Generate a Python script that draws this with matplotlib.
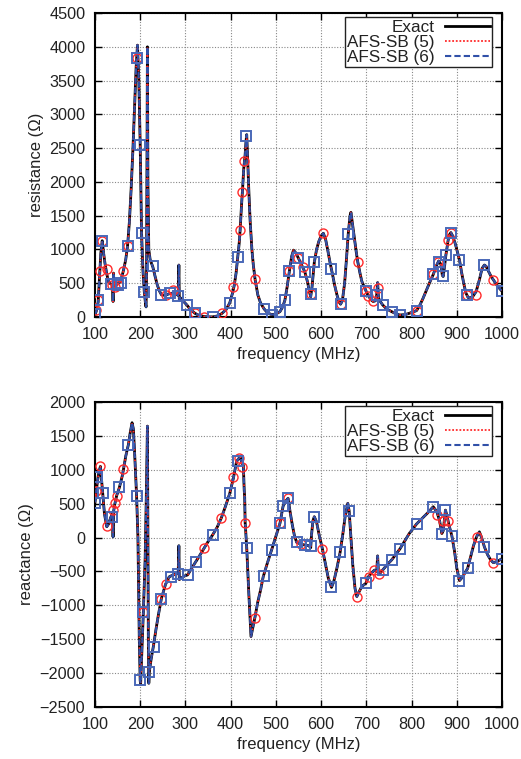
import numpy as np
import matplotlib
matplotlib.use("Agg")
import matplotlib.pyplot as plt

plt.rcParams["font.family"] = ["Liberation Sans", "DejaVu Sans"]
plt.rcParams["font.size"] = 11

# ---------------- resistance (top) ----------------
f_res = [100, 103, 107, 110, 113, 116, 119, 122, 126, 130, 135, 139, 140, 141, 142, 146,
         150, 154, 158, 163, 168, 172, 176, 180, 184, 188, 191, 194, 197, 200, 203, 206,
         209, 212, 213, 214, 216, 217, 219, 222, 228, 233, 238, 243, 247, 255, 262, 268,
         274, 280, 284, 285.5, 286.5, 290, 296, 303, 310, 321, 330, 341, 350, 360, 370, 380,
         390, 398, 404, 408, 412, 416, 419, 421, 424, 426, 429, 432, 434, 435.5, 437, 440,
         443, 447, 450, 454, 460, 466, 474, 482, 491, 500, 509, 515, 520, 525, 530, 535,
         539, 544, 550, 555, 559, 564, 570, 574, 577, 580, 585, 590, 595, 600, 605, 610,
         615, 620, 625, 630, 635, 640, 643, 647, 652, 656, 660, 664, 666, 669, 674, 678,
         681, 686, 690, 695, 699, 704, 710, 715, 720, 723, 725, 727, 731, 736, 745, 756,
         765, 774, 785, 795, 803, 811, 818, 825, 833, 840, 848, 855, 860, 865, 868, 870,
         873, 876, 879, 881, 884, 887, 891, 897, 902, 906, 911, 916, 920, 925, 929, 935,
         943, 950, 956, 961, 965, 970, 976, 981, 990, 999]
r_exact = [30, 90, 220, 600, 950, 1130, 950, 800, 640, 520, 490, 470, 230, 650, 480, 470,
           490, 510, 560, 690, 850, 1050, 1400, 1900, 2500, 3200, 3700, 4025, 3500, 2545, 1250, 700,
           375, 180, 150, 600, 4000, 2000, 1000, 850, 740, 600, 470, 380, 330, 320, 340, 350,
           355, 340, 320, 770, 250, 280, 230, 180, 120, 55, 25, 8, 2, 2, 15, 50,
           110, 210, 350, 470, 650, 900, 1100, 1290, 1650, 1855, 2200, 2400, 2600, 2700, 2450, 1900,
           1435, 1000, 780, 560, 330, 210, 120, 60, 35, 45, 80, 150, 250, 450, 685, 900,
           990, 950, 870, 800, 740, 670, 520, 380, 300, 450, 810, 1000, 1120, 1200, 1240, 1150,
           980, 800, 640, 470, 330, 220, 190, 240, 500, 850, 1230, 1500, 1550, 1400, 1150, 950,
           820, 650, 530, 450, 390, 320, 260, 230, 240, 330, 510, 280, 230, 180, 120, 80,
           50, 30, 35, 55, 75, 95, 170, 270, 400, 510, 630, 760, 830, 780, 620, 600,
           750, 920, 1050, 1140, 1220, 1250, 1200, 1080, 950, 845, 650, 480, 360, 290, 285, 300,
           380, 550, 720, 770, 750, 680, 600, 550, 460, 390]

f_res_c5 = [102, 107, 110, 116, 126, 137, 144, 150, 163, 173, 192, 256, 272, 321, 341, 380,
            406, 421, 425, 430, 454, 530, 550, 559, 577, 605, 643, 681, 699, 704, 715, 726,
            811, 848, 858, 881, 887, 923, 943, 981]
r_c5 = [100, 250, 680, 1120, 710, 470, 440, 480, 680, 1050, 3840, 320, 400, 55, 5, 55,
        440, 1290, 1845, 2310, 560, 685, 870, 740, 340, 1240, 190, 820, 390, 310, 230, 430,
        95, 630, 810, 1140, 1250, 325, 330, 550]

f_res_s6 = [100, 107, 116, 135, 150, 157, 173, 192, 200, 205, 209, 229, 247, 266, 284, 303,
            321, 360, 398, 417, 435, 474, 491, 509, 520, 530, 550, 564, 577, 585, 623, 643,
            660, 699, 723, 736, 756, 774, 811, 848, 861, 870, 876, 887, 906, 923, 961, 999]
r_s6 = [40, 250, 1120, 490, 480, 500, 1050, 3840, 2545, 1240, 375, 760, 325, 350, 310, 180,
        55, 0, 210, 890, 2685, 115, 30, 80, 250, 685, 870, 670, 340, 810, 705, 190,
        1230, 390, 330, 180, 80, 30, 95, 630, 820, 610, 920, 1250, 845, 325, 770, 390]

# ---------------- reactance (bottom) ----------------
f_rea = [100, 103, 107, 110, 112, 114, 117, 121, 126, 130, 135, 139, 140, 141, 144, 148,
         154, 160, 163, 168, 174, 178, 182, 185, 188, 192, 195, 198, 200, 201, 203, 207,
         211, 214, 216, 217, 218, 219, 220, 224, 229, 235, 240, 247, 256, 264, 270, 278,
         284, 285.5, 286.5, 290, 297, 305, 314, 323, 332, 341, 350, 360, 370, 379, 388, 398,
         406, 413, 417, 421, 425, 428, 430, 431, 432, 435.5, 440, 445, 450, 454, 460, 466,
         472, 481, 491, 500, 509, 516, 522, 527, 531, 536, 541, 546, 556, 564, 573, 577,
         579, 582, 585, 590, 596, 603, 610, 616, 623, 628, 635, 642, 648, 653, 659, 662,
         666, 670, 675, 679, 684, 690, 699, 705, 712, 718, 723, 725, 727, 731, 736, 746,
         756, 765, 774, 785, 795, 811, 823, 835, 848, 856, 862, 867, 870, 875, 878, 883,
         889, 895, 900, 906, 913, 918, 924, 930, 937, 944, 950, 955, 961, 968, 975, 981,
         990, 999]
x_exact = [520, 700, 900, 1000, 1050, 900, 660, 350, 160, 200, 300, 360, 10, 380, 500, 620,
           740, 900, 1005, 1200, 1375, 1550, 1695, 1600, 1200, 620, 0, -1500, -2115, -2150, -1800, -1095,
           -300, 800, 1645, 0, -1500, -2150, -1990, -1800, -1610, -1350, -1150, -895, -690, -580, -560, -540,
           -530, -120, -620, -600, -570, -550, -450, -355, -260, -160, -60, 38, 150, 284, 450, 652,
           875, 1120, 1160, 1190, 1100, 1070, 700, 600, 234, -145, -800, -1460, -1300, -1168, -950, -780,
           -578, -380, -173, 20, 210, 465, 540, 580, 400, 200, 30, -70, -100, -110, -120, -150,
           50, 250, 308, 230, 30, -170, -400, -600, -735, -650, -450, -220, 50, 300, 505, 395,
           0, -400, -750, -870, -800, -720, -675, -575, -520, -480, -500, -270, -540, -520, -480, -400,
           -330, -250, -170, -50, 60, 200, 280, 360, 455, 380, 250, 60, 100, 405, 330, 180,
           30, -200, -450, -635, -580, -520, -455, -300, -120, 15, 85, 0, -135, -250, -330, -370,
           -350, -315]

f_rea_c5 = [102, 111, 126, 140, 144, 148, 163, 207, 247, 256, 341, 379, 406, 419, 425, 432,
            454, 509, 527, 556, 603, 679, 705, 718, 727, 856, 870, 881, 944, 981]
x_c5 = [690, 1055, 170, 400, 505, 620, 1005, -1105, -900, -690, -160, 284, 890, 1170, 1045, 220,
        -1180, 210, 580, -100, -170, -870, -575, -480, -540, 330, 250, 250, 15, -370]

f_rea_s6 = [100, 105, 117, 137, 154, 172, 192, 200, 207, 220, 230, 247, 268, 284, 305, 323,
            360, 398, 416, 437, 474, 491, 509, 516, 527, 546, 564, 577, 585, 623, 642, 662,
            699, 736, 756, 774, 811, 848, 867, 875, 889, 906, 924, 961, 999]
x_s6 = [515, 900, 662, 308, 740, 1365, 613, -2100, -1105, -1990, -1610, -900, -575, -530, -550, -355,
        38, 652, 1130, -160, -570, -185, 210, 465, 580, -70, -110, -120, 308, -735, -220, 395,
        -675, -480, -330, -170, 200, 455, 60, 405, 30, -635, -455, -135, -315]

red = "#ff2a2a"
blue = "#3050a8"
sq_col = "#4a68b8"

fig = plt.figure(figsize=(5.21, 7.59), dpi=100)
ax1 = fig.add_axes([0.1823, 0.5823, 0.7812, 0.4005])
ax2 = fig.add_axes([0.1823, 0.0685, 0.7812, 0.4018])


def draw(ax, f, y, fc, yc, fs, ys, ylabel, yticks):
    ax.plot(f, y, color="black", lw=2.0, label="Exact", zorder=3)
    ax.plot(f, y, color=red, lw=1.3, ls=(0, (1, 1)), label="AFS-SB (5)", zorder=4)
    ax.plot(f, y, color=blue, lw=1.5, ls=(0, (3, 1.5)), label="AFS-SB (6)", zorder=5)
    ax.plot(fc, yc, "o", ms=6.5, mfc="none", mec=red, mew=1.0, zorder=6)
    ax.plot(fs, ys, "s", ms=6.5, mfc="none", mec=sq_col, mew=1.4, zorder=6)

    ax.set_xlim(100, 1000)
    ax.set_xticks(np.arange(100, 1001, 100))
    ax.set_ylim(yticks[0], yticks[-1])
    ax.set_yticks(yticks)
    ax.grid(True, color="#888888", ls=(0, (1, 1.5)), lw=0.8)
    ax.set_axisbelow(True)
    for s in ax.spines.values():
        s.set_linewidth(1.5)
    ax.tick_params(which="both", direction="in", top=True, right=True,
                   length=5, width=1.0, labelsize=11.7, pad=7, labelcolor="#222222")
    ax.set_xlabel("frequency (MHz)", fontsize=12, labelpad=4, color="#222222")
    ax.set_ylabel(ylabel, fontsize=12, labelpad=4, color="#222222")

    leg = ax.legend(loc="upper right", bbox_to_anchor=(0.976, 0.987),
                    borderaxespad=0, fancybox=False, framealpha=1,
                    edgecolor="#222222", fontsize=12.3, markerfirst=False,
                    handlelength=2.6, handletextpad=0.6, borderpad=0.15,
                    labelspacing=0.0)
    leg.get_frame().set_linewidth(1.0)
    for t in leg.get_texts():
        t.set_ha("right")
        t.set_color("#222222")
    leg.set_zorder(10)


draw(ax1, f_res, r_exact, f_res_c5, r_c5, f_res_s6, r_s6,
     "resistance (\u03a9)", np.arange(0, 4501, 500))
draw(ax2, f_rea, x_exact, f_rea_c5, x_c5, f_rea_s6, x_s6,
     "reactance (\u03a9)", np.arange(-2500, 2001, 500))

fig.savefig("out.png", dpi=100)
